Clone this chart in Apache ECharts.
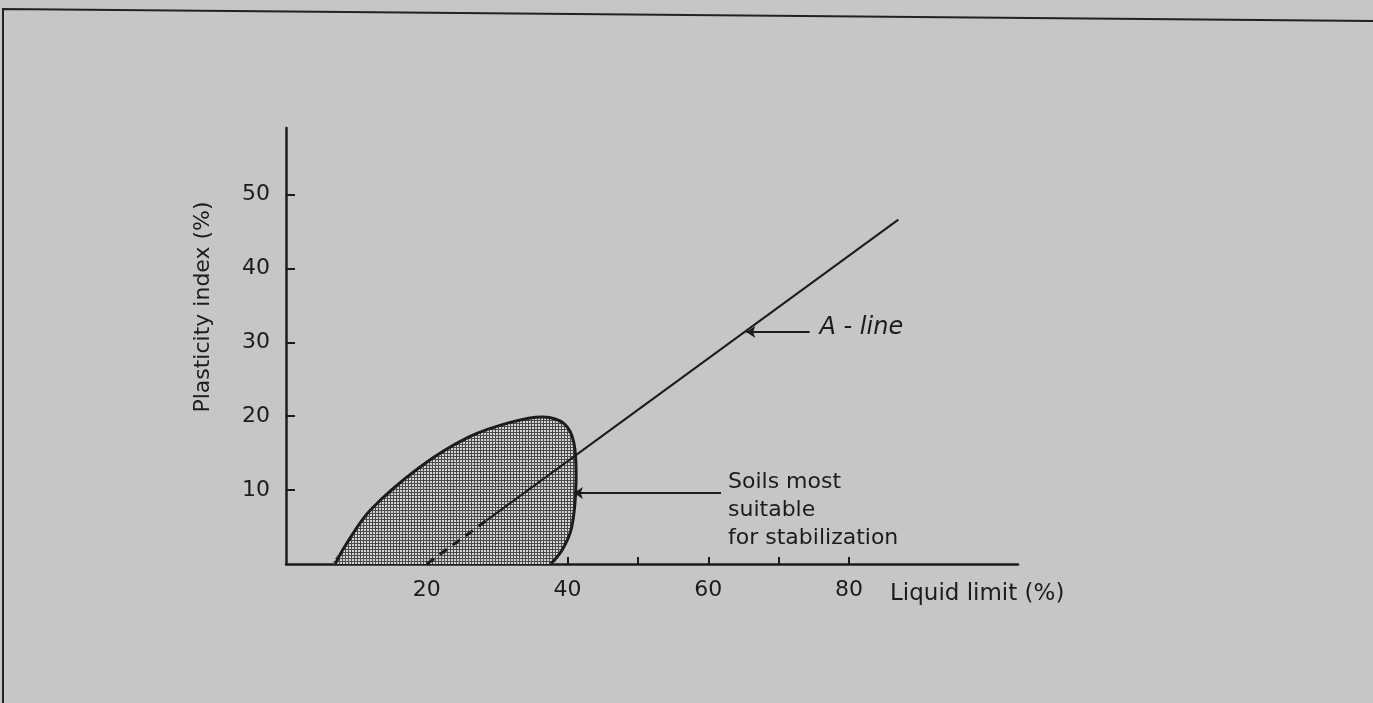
<!DOCTYPE html>
<html>
<head>
<meta charset="utf-8">
<script src="https://cdn.jsdelivr.net/npm/echarts@6/dist/echarts.min.js"></script>
<style>
html,body{margin:0;padding:0;background:#c6c6c6;}
#main{width:1373px;height:703px;}
</style>
</head>
<body>
<div id="main"></div>
<script>
// ticks and labels
var xTicks = [10, 20, 30, 40, 50, 60, 70, 80];
var xTickLabels = [20, 40, 60, 80];
var yTicks = [10, 20, 30, 40, 50];
var yTickLabels = [10, 20, 30, 40, 50];

// A-line (dashed part inside the zone, then solid)
var aLineDashed = [[20, 0], [28.5, 5.9]];
var aLineSolid = [[28.5, 5.9], [87, 46.6]];

// outline of the shaded zone (liquid limit, plasticity index)
var zoneOutline = [[7, 0], [8.5, 2.6], [12, 7.3], [19, 13.1], [26, 17.2], [32, 19.2], [36.5, 19.9],
  [39.5, 19], [40.9, 16.4], [41.2, 10.9], [40.6, 5], [39.3, 2], [37.6, 0]];

// notes: arrows start at the tip
var aLineArrow = [[65.4, 31.4], [74.4, 31.4]];
var aLineNote = [[75.8, 31.9]];
var zoneArrow = [[40.9, 9.6], [61.8, 9.6]];
var zoneNote = [[62.8, 7.3]];

var ink = '#1c1c1c';
var font = 'DejaVu Sans';

// little mesh texture for the zone
var pat = document.createElement('canvas');
pat.width = 3; pat.height = 3;
var pc = pat.getContext('2d');
pc.fillStyle = '#d4d4d4'; pc.fillRect(0, 0, 3, 3);
pc.fillStyle = '#4a4a4a'; pc.fillRect(0, 0, 3, 1); pc.fillRect(0, 0, 1, 3);

var chart = echarts.init(document.getElementById('main'));

chart.setOption({
  backgroundColor: '#c6c6c6',
  animation: false,
  grid: {left: 286, right: 355, top: 128, bottom: 139},
  xAxis: {
    type: 'value', min: 0, max: 104,
    name: 'Liquid limit (%)', nameLocation: 'end', nameGap: -128,
    nameTextStyle: {color: ink, fontFamily: font, fontSize: 23, verticalAlign: 'top', lineHeight: 60},
    splitLine: {show: false},
    axisLine: {lineStyle: {color: ink, width: 2.5}},
    axisTick: {inside: true, length: 7, customValues: xTicks, lineStyle: {color: ink, width: 2}},
    axisLabel: {customValues: xTickLabels, color: ink, fontFamily: font, fontSize: 22, margin: 15}
  },
  yAxis: {
    type: 'value', min: 0, max: 59,
    name: 'Plasticity index (%)', nameLocation: 'middle', nameGap: 72,
    nameTextStyle: {color: ink, fontFamily: font, fontSize: 22, padding: [0, 0, 0, 78]},
    splitLine: {show: false},
    axisLine: {lineStyle: {color: ink, width: 2.5}},
    axisTick: {inside: true, length: 9, customValues: yTicks, lineStyle: {color: ink, width: 2}},
    axisLabel: {customValues: yTickLabels, color: ink, fontFamily: font, fontSize: 22, margin: 16}
  },
  graphic: [
    {type: 'polyline', shape: {points: [[3, 703], [3, 9], [1373, 21]]}, style: {stroke: '#222', lineWidth: 2, fill: null}}
  ],
  series: [
    {
      type: 'custom', clip: true, z: 2,
      data: [0],
      renderItem: function (params, api) {
        var pts = zoneOutline.map(function (p) { return api.coord(p); });
        return {
          type: 'group',
          children: [
            {type: 'polygon', shape: {points: pts, smooth: 0.35}, style: {fill: {image: pat, repeat: 'repeat'}}},
            {type: 'polyline', shape: {points: pts, smooth: 0.35}, style: {fill: null, stroke: ink, lineWidth: 3}}
          ]
        };
      }
    },
    {
      type: 'line', data: aLineDashed, symbol: 'none', z: 3,
      lineStyle: {color: ink, width: 3, type: [9, 7]}
    },
    {
      type: 'line', data: aLineSolid, symbol: 'none', z: 3,
      lineStyle: {color: ink, width: 2}
    },
    {
      type: 'lines', coordinateSystem: 'cartesian2d', z: 3,
      symbol: ['arrow', 'none'], symbolSize: 9,
      lineStyle: {color: ink, width: 1.8, opacity: 1},
      data: [{coords: aLineArrow}, {coords: zoneArrow}]
    },
    {
      type: 'scatter', data: aLineNote, symbolSize: 0, z: 4,
      itemStyle: {opacity: 1},
      label: {show: true, position: 'right', distance: 0, formatter: 'A - line',
        color: ink, fontFamily: font, fontSize: 24, fontStyle: 'italic'}
    },
    {
      type: 'scatter', data: zoneNote, symbolSize: 0, z: 4,
      itemStyle: {opacity: 1},
      label: {show: true, position: 'right', distance: 0, align: 'left',
        formatter: 'Soils most\nsuitable\nfor stabilization',
        color: ink, fontFamily: font, fontSize: 22, lineHeight: 28}
    }
  ]
});
</script>
</body>
</html>
